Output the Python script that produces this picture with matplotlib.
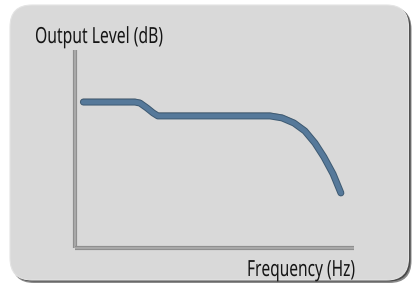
import matplotlib
matplotlib.use("Agg")
import matplotlib.pyplot as plt
from matplotlib.patches import FancyBboxPatch
from matplotlib.transforms import Affine2D
import matplotlib.patheffects as pe

# curve (relative frequency 0-100, relative level 0-100)
freq = [3, 21.5, 23.3, 25.8, 28.0, 29.7, 69.9, 74.2, 78.5, 82.4, 86.0, 89.2, 92.5, 95.3]
level = [73.7, 73.7, 73.2, 70.7, 68.2, 66.7, 66.7, 65.7, 63.1, 59.1, 53.0, 46.0, 37.4, 27.8]
y_label = "Output Level (dB)"
x_label = "Frequency (Hz)"

W, H = 415, 287
fig = plt.figure(figsize=(W / 100, H / 100), dpi=100)
fig.patch.set_facecolor("white")

bg = fig.add_axes([0, 0, 1, 1])
bg.set_xlim(0, W)
bg.set_ylim(H, 0)
bg.axis("off")

# panel with shadow
bg.add_patch(FancyBboxPatch((12, 7), 399.5, 276, boxstyle="round,pad=0,rounding_size=22",
                            fc="#8a8a8a", ec="none"))
bg.add_patch(FancyBboxPatch((11.5, 6.5), 399, 275, boxstyle="round,pad=0,rounding_size=22",
                            fc="#4a4a4a", ec="none"))
bg.add_patch(FancyBboxPatch((10, 5), 398.5, 275, boxstyle="round,pad=0,rounding_size=22",
                            fc="#d9d9d9", ec="#e4e4e4", lw=0.8))

ax = fig.add_axes([75 / W, 1 - 248 / H, 279 / W, 198 / H])
ax.set_xlim(0, 100)
ax.set_ylim(0, 100)
ax.patch.set_alpha(0)
for s in ax.spines.values():
    s.set_visible(False)
ax.set_xticks([])
ax.set_yticks([])

axis_fx = [pe.Stroke(linewidth=3.0, foreground="#8c8c8c"), pe.Normal()]
ax.plot([0, 0], [0, 100], color="#a8a8a8", lw=1.6, solid_capstyle="butt",
        path_effects=axis_fx, clip_on=False)
ax.plot([0, 100], [0, 0], color="#a8a8a8", lw=1.6, solid_capstyle="butt",
        path_effects=axis_fx, clip_on=False)

line_fx = [pe.SimpleLineShadow(offset=(-0.3, 0.7), shadow_color="#7a7a7a", alpha=0.8),
           pe.Stroke(linewidth=5.0, foreground="#3e5a72"), pe.Normal()]
ax.plot(freq, level, color="#56799a", lw=3.6, solid_capstyle="round",
        solid_joinstyle="round", path_effects=line_fx, clip_on=False)


class Squeeze(pe.AbstractPathEffect):
    """Horizontally condense text around a fixed display x."""
    def __init__(self, sx, x0):
        super().__init__()
        self.sx = sx
        self.x0 = x0

    def draw_path(self, renderer, gc, tpath, affine, rgbFace=None):
        t = affine + Affine2D().translate(-self.x0, 0).scale(self.sx, 1).translate(self.x0, 0)
        renderer.draw_path(gc, tpath, t, rgbFace)


font = dict(family=["Noto Sans", "DejaVu Sans"], color="#151515", fontsize=16)
t1 = bg.text(35, 43, y_label, va="baseline", ha="left", **font)
t2 = bg.text(355, 276, x_label, va="baseline", ha="right", **font)

renderer = fig.canvas.get_renderer()
for t, target, anchor in [(t1, 128, "left"), (t2, 108, "right")]:
    bb = t.get_window_extent(renderer)
    x0 = bb.x0 if anchor == "left" else bb.x1
    t.set_path_effects([Squeeze(target / bb.width, x0)])

fig.savefig("out.png", dpi=100, facecolor="white")
